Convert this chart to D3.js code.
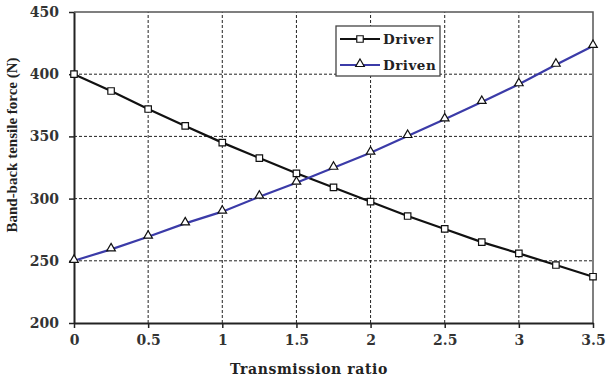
<!DOCTYPE html>
<html>
<head>
<meta charset="utf-8">
<script src="https://cdn.jsdelivr.net/npm/d3@7"></script>
<style>
  html, body { margin: 0; padding: 0; background: #fff; }
  svg { display: block; }
</style>
</head>
<body>
<svg id="chart" width="609" height="381"></svg>
<script>
// Transmission ratio sampled every 0.25
const ratios = [0, 0.25, 0.5, 0.75, 1, 1.25, 1.5, 1.75, 2, 2.25, 2.5, 2.75, 3, 3.25, 3.5];
// Band-back tensile force (N)
const driverForce = [400, 386.5, 372, 358.4, 345, 332.6, 320.3, 309, 297.5, 286, 275.6, 265, 256, 246.6, 237.2];
const drivenForce = [250, 259.2, 269.4, 280.1, 289.5, 301.5, 312.8, 324.8, 336.9, 350.3, 363.7, 377.7, 391.9, 407.6, 422.7];
const xTicks = [0, 0.5, 1, 1.5, 2, 2.5, 3, 3.5];
const yTicks = [200, 250, 300, 350, 400, 450];
const seriesNames = ["Driver", "Driven"];

const svg = d3.select("#chart");
const margin = { left: 74, right: 16, top: 12, bottom: 58 };
const W = 609, H = 381;

const x = d3.scaleLinear().domain([0, 3.5]).range([margin.left, W - margin.right]);
const y = d3.scaleLinear().domain([200, 450]).range([H - margin.bottom, margin.top]);

const serifBold = "'DejaVu Serif', serif";

// grid
const grid = svg.append("g");
grid.selectAll("line.gx").data(xTicks.filter(d => d > 0 && d < 3.5)).join("line")
  .attr("x1", d => x(d)).attr("x2", d => x(d))
  .attr("y1", y(200)).attr("y2", y(450))
  .attr("stroke", "#222").attr("stroke-width", 1).attr("stroke-dasharray", "3,2");
grid.selectAll("line.gy").data(yTicks.filter(d => d > 200 && d < 450)).join("line")
  .attr("x1", x(0)).attr("x2", x(3.5))
  .attr("y1", d => y(d)).attr("y2", d => y(d))
  .attr("stroke", "#222").attr("stroke-width", 1).attr("stroke-dasharray", "3,2");

// frame: top and right
svg.append("path")
  .attr("d", `M${x(0)},${y(450)}H${x(3.5)}V${y(200)}`)
  .attr("fill", "none").attr("stroke", "#555").attr("stroke-width", 1.5);

// axes
const xAxis = svg.append("g").attr("transform", `translate(0,${y(200)})`)
  .call(d3.axisBottom(x).tickValues(xTicks).tickSize(5).tickSizeOuter(0).tickPadding(7)
    .tickFormat(d => d3.format("")(d)));
const yAxis = svg.append("g").attr("transform", `translate(${x(0)},0)`)
  .call(d3.axisLeft(y).tickValues(yTicks).tickSize(5).tickSizeOuter(0).tickPadding(10));
[xAxis, yAxis].forEach(a => {
  a.select(".domain").attr("stroke", "#222").attr("stroke-width", 2);
  a.selectAll(".tick line").attr("stroke", "#222").attr("stroke-width", 1.5);
  a.selectAll("text").attr("font-family", serifBold).attr("font-weight", "bold")
    .attr("font-size", 14).attr("fill", "#333");
});

// axis titles
svg.append("text").attr("x", 309).attr("y", 374).attr("text-anchor", "middle")
  .attr("font-family", serifBold).attr("font-weight", "bold").attr("font-size", 14)
  .attr("letter-spacing", 0.6).attr("fill", "#222").text("Transmission ratio");
svg.append("text").attr("transform", "translate(17,145) rotate(-90)").attr("text-anchor", "middle")
  .attr("font-family", "'Liberation Serif', serif").attr("font-weight", "bold").attr("font-size", 15)
  .attr("fill", "#222").text("Band-back tensile force (N)");

const line = d3.line().x((d, i) => x(ratios[i])).y(d => y(d));
const colors = ["#111", "#3b3ba8"];
const data = [driverForce, drivenForce];

data.forEach((vals, k) => {
  svg.append("path").datum(vals).attr("d", line)
    .attr("fill", "none").attr("stroke", colors[k]).attr("stroke-width", 2.2);
});

const square = d3.symbol().type(d3.symbolSquare).size(42);
const triangle = d3.symbol().type(d3.symbolTriangle).size(32);

function marker(g, k) {
  g.attr("d", k === 0 ? square() : triangle())
    .attr("fill", "#fff").attr("stroke", "#111").attr("stroke-width", 1.2);
}

data.forEach((vals, k) => {
  svg.append("g").selectAll("path").data(vals).join("path")
    .attr("transform", (d, i) => `translate(${x(ratios[i])},${y(d) + (k === 1 ? -1 : 0)})`)
    .call(g => marker(g, k));
});

// legend
const lg = svg.append("g").attr("transform", "translate(336,26)");
lg.append("rect").attr("width", 104).attr("height", 50)
  .attr("fill", "#fff").attr("stroke", "#444").attr("stroke-width", 1.3);
seriesNames.forEach((name, k) => {
  const yy = 13 + k * 26;
  lg.append("line").attr("x1", 4).attr("x2", 44).attr("y1", yy).attr("y2", yy)
    .attr("stroke", colors[k]).attr("stroke-width", 2.2);
  lg.append("path").attr("transform", `translate(24,${yy + (k === 1 ? -1 : 0)})`).call(g => marker(g, k));
  lg.append("text").attr("x", 47).attr("y", yy + 5)
    .attr("font-family", serifBold).attr("font-weight", "bold").attr("font-size", 13.5)
    .attr("letter-spacing", 0.5).attr("fill", "#222").text(name);
});
</script>
</body>
</html>
